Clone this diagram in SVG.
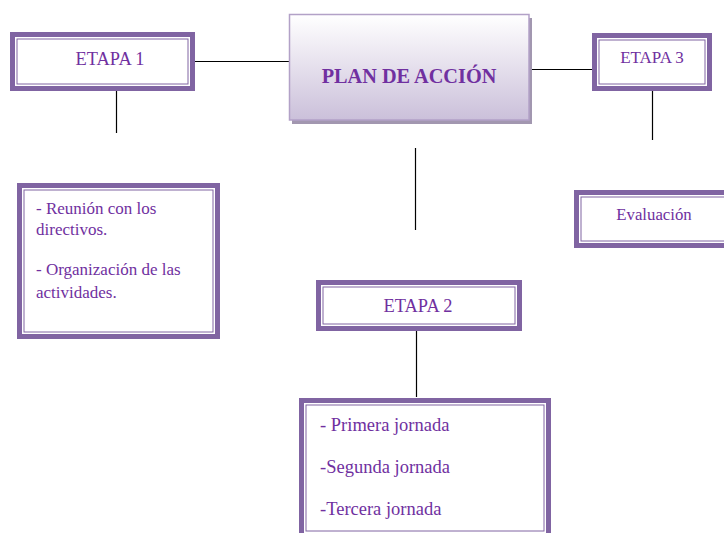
<svg xmlns="http://www.w3.org/2000/svg" width="724" height="533" viewBox="0 0 724 533">
  <defs>
    <linearGradient id="planGrad" x1="0" y1="0" x2="0" y2="1">
      <stop offset="0" stop-color="#ffffff"/>
      <stop offset="1" stop-color="#cbc0da"/>
    </linearGradient>
  </defs>
  <style>
    .band { fill: #ffffff; stroke: #8064a2; stroke-width: 5; }
    .inner { fill: none; stroke: #8064a2; stroke-width: 1; }
    .txt { font-family: "Liberation Serif", "Times New Roman", serif; fill: #7030a0; }
    .conn { stroke: #000000; stroke-width: 1.2; fill: none; }
  </style>
  <rect width="724" height="533" fill="#ffffff"/>

  <g id="connectors">
    <line class="conn" x1="195" y1="61.5" x2="289" y2="61.5"/>
    <line class="conn" x1="116.5" y1="91" x2="116.5" y2="133"/>
    <line class="conn" x1="529" y1="69.5" x2="592" y2="69.5"/>
    <line class="conn" x1="652.5" y1="91" x2="652.5" y2="140"/>
    <line class="conn" x1="415.5" y1="148" x2="415.5" y2="230"/>
    <line class="conn" x1="416.5" y1="331" x2="416.5" y2="397"/>
  </g>

  <g id="plan">
    <rect x="292" y="18" width="240" height="106" fill="#a297b0"/>
    <rect x="289.5" y="14.5" width="239.5" height="105.5" fill="url(#planGrad)" stroke="#b2a1c7" stroke-width="1.5"/>
    <text class="txt" x="409" y="83" font-size="20.3" font-weight="bold" text-anchor="middle">PLAN DE ACCIÓN</text>
  </g>

  <g id="etapa1">
    <rect class="band" x="12.5" y="34.5" width="180" height="54"/>
    <rect class="inner" x="17" y="39" width="171" height="45"/>
    <text class="txt" x="110" y="65" font-size="18.4" text-anchor="middle">ETAPA 1</text>
  </g>

  <g id="etapa3">
    <rect class="band" x="594.5" y="35.5" width="115" height="53"/>
    <rect class="inner" x="599" y="40" width="106" height="44"/>
    <text class="txt" x="652" y="63" font-size="17" text-anchor="middle">ETAPA 3</text>
  </g>

  <g id="etapa2">
    <rect class="band" x="318.5" y="282.5" width="201" height="46"/>
    <rect class="inner" x="323" y="287" width="192" height="37"/>
    <text class="txt" x="418" y="312" font-size="18.4" text-anchor="middle">ETAPA 2</text>
  </g>

  <g id="actividades1">
    <rect class="band" x="19.5" y="185.5" width="198" height="151"/>
    <rect class="inner" x="24" y="190" width="189" height="142"/>
    <text class="txt" font-size="17">
      <tspan x="36" y="214">- Reunión con los</tspan>
      <tspan x="36" y="235">directivos.</tspan>
      <tspan x="36" y="275">- Organización de las</tspan>
      <tspan x="36" y="298">actividades.</tspan>
    </text>
  </g>

  <g id="evaluacion">
    <rect class="band" x="576.5" y="192.5" width="170" height="53"/>
    <rect class="inner" x="581" y="197" width="161" height="44"/>
    <text class="txt" x="654" y="220" font-size="16.8" text-anchor="middle">Evaluación</text>
  </g>

  <g id="jornadas">
    <rect class="band" x="301.5" y="400.5" width="247" height="136"/>
    <rect class="inner" x="306" y="405" width="238" height="126"/>
    <text class="txt" font-size="18.5">
      <tspan x="320" y="431">- Primera jornada</tspan>
      <tspan x="320" y="473">-Segunda jornada</tspan>
      <tspan x="320" y="515">-Tercera jornada</tspan>
    </text>
  </g>
</svg>
